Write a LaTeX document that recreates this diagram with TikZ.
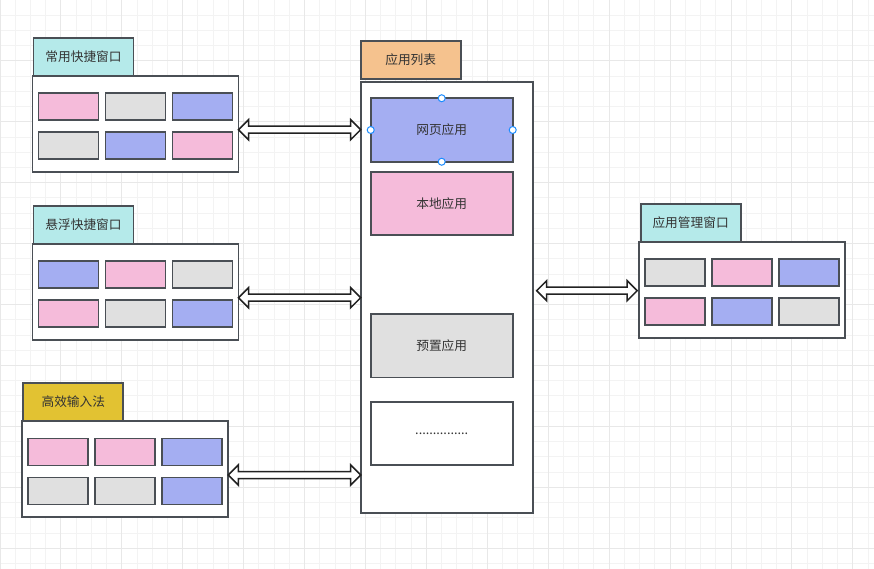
\documentclass[tikz,border=0pt]{standalone}
\usepackage{fontspec}
\newfontfamily\cjk{Noto Sans CJK SC}
\usetikzlibrary{positioning,calc}

\definecolor{linec}{HTML}{4A4F55}
\definecolor{arrowc}{HTML}{222222}
\definecolor{txtc}{HTML}{333333}
\definecolor{pinkc}{HTML}{F5BBDA}
\definecolor{bluec}{HTML}{A4AEF2}
\definecolor{grayc}{HTML}{E0E0E0}
\definecolor{cyanc}{HTML}{B5EAEA}
\definecolor{orangec}{HTML}{F5C28E}
\definecolor{yellowc}{HTML}{E2C232}
\definecolor{handlec}{HTML}{1A8CFF}
\definecolor{gridc}{HTML}{F3F3F3}
\definecolor{gridmajc}{HTML}{E8E8E8}

\begin{document}
\begin{tikzpicture}[x=1pt,y=-1pt,line width=1.8pt,
    box/.style={draw=linec,inner sep=0pt,outer sep=0pt,font=\cjk\fontsize{12.7}{15}\selectfont,text=txtc},
    win/.style={box,fill=white,minimum width=206pt,minimum height=96pt},
    tab/.style={box,minimum width=100pt,minimum height=38pt},
    cell/.style={box,minimum width=60pt,minimum height=27pt},
    app/.style={box,minimum width=142pt,minimum height=63.5pt},
    handle/.style={circle,draw=handlec,fill=white,line width=1pt,inner sep=0pt,minimum size=7pt},
    dblarrow/.style={draw=arrowc,fill=white,line width=1.5pt,to path={
        let \p1=(\tikztostart),\p2=(\tikztotarget) in
        (\x1,\y1) -- (\x1+10pt,\y1+10pt) -- (\x1+10pt,\y1+3.5pt) -- (\x2-10pt,\y1+3.5pt)
        -- (\x2-10pt,\y1+10pt) -- (\x2,\y1) -- (\x2-10pt,\y1-10pt) -- (\x2-10pt,\y1-3.5pt)
        -- (\x1+10pt,\y1-3.5pt) -- (\x1+10pt,\y1-10pt) -- cycle}}]
    \useasboundingbox (0,0) rectangle (874,569);
    \fill[white] (0,0) rectangle (874,569);
    % grid
    \foreach \i in {0,...,57} \draw[gridc,line width=1pt] (\i*15.23,0) -- (\i*15.23,569);
    \foreach \j in {0,...,37} \draw[gridc,line width=1pt] (0,\j*15.23) -- (874,\j*15.23);
    \foreach \i in {0,4,...,56} \draw[gridmajc,line width=1pt] (\i*15.23,0) -- (\i*15.23,569);
    \foreach \j in {0,4,...,36} \draw[gridmajc,line width=1pt] (0,\j*15.23) -- (874,\j*15.23);

    \node[win] (w1) at (135.5,123.7) {};
    \node[tab,fill=cyanc,above right=0pt and 1pt of w1.north west] (t1) {常用快捷窗口};
    \node[win] (w2) at (135.5,291.7) {};
    \node[tab,fill=cyanc,above right=0pt and 1pt of w2.north west] (t2) {悬浮快捷窗口};
    \node[win] (w3) at (125.3,469) {};
    \node[tab,fill=yellowc,above right=0pt and 1pt of w3.north west] (t3) {高效输入法};
    \node[win] (w4) at (742.2,289.7) {};
    \node[tab,fill=cyanc,above right=0pt and 1.4pt of w4.north west] (t4) {应用管理窗口};

    \foreach \w/\cols in {w1/{pinkc,grayc,bluec,grayc,bluec,pinkc},
                          w2/{bluec,pinkc,grayc,pinkc,grayc,bluec},
                          w3/{pinkc,pinkc,bluec,grayc,grayc,bluec},
                          w4/{grayc,pinkc,bluec,pinkc,bluec,grayc}}
        \foreach \c [count=\i from 0] in \cols {
            \pgfmathsetmacro\cx{36+67*mod(\i,3)}
            \pgfmathsetmacro\cy{31+39*int(\i/3)}
            \node[cell,fill=\c] (\w-\i) at ($(\w.north west)+(\cx,\cy)$) {};
        }

    \node[box,fill=white,minimum width=172pt,minimum height=431.6pt] (list) at (446.7,297.5) {};
    \node[tab,fill=orangec,above right=2.7pt and 0pt of list.north west] (lt) {应用列表};
    \node[app,fill=bluec] (a1) at (441.7,130) {网页应用};
    \node[app,fill=pinkc,below=10pt of a1] (a2) {本地应用};
    \node[app,fill=grayc] (a3) at (441.7,345.7) {预置应用};
    \node[app,fill=white,below=24.4pt of a3] (a4) {...............};
    \foreach \s in {north,south,west,east} \node[handle] (h-\s) at (a1.\s) {};

    \draw[dblarrow] ($(w1.east)+(0,6)$) to (list.west);
    \draw[dblarrow] ($(w2.east)+(0,6)$) to (list.west);
    \draw[dblarrow] ($(w3.east)+(0,6)$) to (list.west);
    \draw[dblarrow] ($(list.east |- w4.west)+(4,1)$) to ($(w4.west)+(-2,0)$);
\end{tikzpicture}
\end{document}
